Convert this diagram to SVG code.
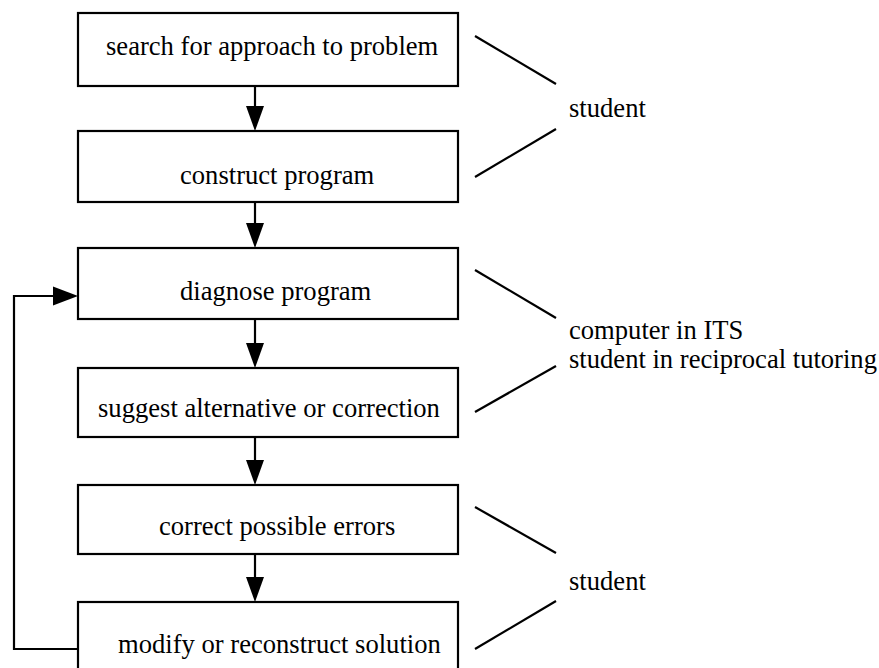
<svg xmlns="http://www.w3.org/2000/svg" width="879" height="668" viewBox="0 0 879 668">
<style>
.box{fill:#fff;stroke:#000;stroke-width:2.2}
.t{font-family:'Liberation Serif','Times New Roman','DejaVu Serif',serif;font-size:26.6px;fill:#000}
.ln{fill:none;stroke:#000;stroke-width:2.2}
.hd{fill:#000;stroke:none}
</style>
<rect width="879" height="668" fill="#fff"/>
<g id="n1"><rect class="box" x="78" y="13" width="380" height="73"/><text class="t" x="106" y="55">search for approach to problem</text></g>
<g id="n2"><rect class="box" x="78" y="131" width="380" height="71"/><text class="t" x="180" y="184">construct program</text></g>
<g id="n3"><rect class="box" x="78" y="248" width="380" height="71"/><text class="t" x="180" y="300">diagnose program</text></g>
<g id="n4"><rect class="box" x="78" y="368" width="380" height="69"/><text class="t" x="98" y="417">suggest alternative or correction</text></g>
<g id="n5"><rect class="box" x="78" y="485" width="380" height="69"/><text class="t" x="159" y="535">correct possible errors</text></g>
<g id="n6"><rect class="box" x="78" y="602" width="380" height="70"/><text class="t" x="118" y="653">modify or reconstruct solution</text></g>
<g id="connectors">
<line class="ln" x1="255" y1="86" x2="255" y2="110"/><polygon class="hd" points="246,106 264,106 255,131"/>
<line class="ln" x1="255" y1="202" x2="255" y2="227"/><polygon class="hd" points="246,223 264,223 255,248"/>
<line class="ln" x1="255" y1="319" x2="255" y2="347"/><polygon class="hd" points="246,343 264,343 255,368"/>
<line class="ln" x1="255" y1="437" x2="255" y2="464"/><polygon class="hd" points="246,460 264,460 255,485"/>
<line class="ln" x1="255" y1="554" x2="255" y2="581"/><polygon class="hd" points="246,577 264,577 255,602"/>
<polyline class="ln" points="78,649 14,649 14,296 57,296"/><polygon class="hd" points="53,286.5 53,305.5 78,296"/>
</g>
<g id="annotations">
<line class="ln" x1="475" y1="36" x2="556" y2="84"/>
<line class="ln" x1="556" y1="129" x2="475" y2="177"/>
<line class="ln" x1="475" y1="270" x2="556" y2="318"/>
<line class="ln" x1="556" y1="366" x2="475" y2="412"/>
<line class="ln" x1="475" y1="507" x2="556" y2="553"/>
<line class="ln" x1="556" y1="601" x2="475" y2="649"/>
<text class="t" x="569" y="117">student</text>
<text class="t" x="569" y="339">computer in ITS</text>
<text class="t" x="569" y="368">student in reciprocal tutoring</text>
<text class="t" x="569" y="590">student</text>
</g>
</svg>
